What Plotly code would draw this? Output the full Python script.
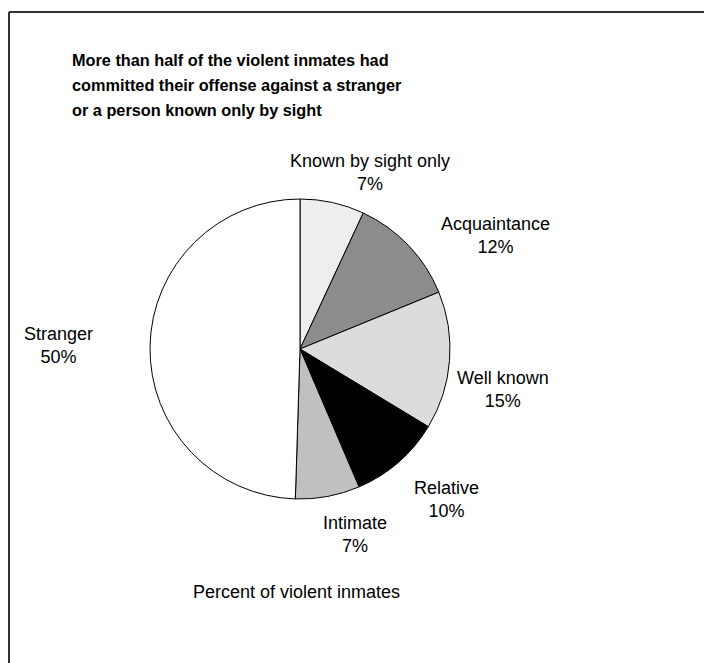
import plotly.graph_objects as go

W, H = 704, 663

categories = ["Known by sight only", "Acquaintance", "Well known", "Relative", "Intimate", "Stranger"]
values = [7, 12, 15, 10, 7, 50]
colors = ["#eeeeee", "#8c8c8c", "#dcdcdc", "#000000", "#c0c0c0", "#ffffff"]

# label anchor positions in pixels (center x, center y)
label_pos = [(370, 173), (495, 235), (503, 389), (447, 499), (355, 534), (58, 345)]

title_lines = ["More than half of the violent inmates had",
               "committed their offense against a stranger",
               "or a person known only by sight"]
title_y = [60, 85, 110]
footer_text = "Percent of violent inmates"

FONT = "Liberation Sans, Arial, sans-serif"

def px(x):
    return x / W

def py(y):
    return 1 - y / H

cx, cy, r = 300, 349, 150

fig = go.Figure(go.Pie(
    labels=categories,
    values=values,
    sort=False,
    direction="clockwise",
    rotation=0,
    marker=dict(colors=colors, line=dict(color="#000000", width=1)),
    textinfo="none",
    hoverinfo="label+value",
    showlegend=False,
    domain=dict(x=[px(cx - r), px(cx + r)], y=[py(cy + r), py(cy - r)]),
))

annotations = []
for cat, val, (lx, ly) in zip(categories, values, label_pos):
    annotations.append(dict(
        x=px(lx), y=py(ly), xref="paper", yref="paper",
        text=f"{cat}<br>{val}%", showarrow=False,
        xanchor="center", yanchor="middle", align="center",
        font=dict(family=FONT, size=18, color="#000000"),
    ))

for line, ty in zip(title_lines, title_y):
    annotations.append(dict(
        x=px(70), y=py(ty), xref="paper", yref="paper",
        text=f"<b>{line}</b>", showarrow=False,
        xanchor="left", yanchor="middle", align="left",
        font=dict(family=FONT, size=16.3, color="#000000"),
    ))

annotations.append(dict(
    x=px(296), y=py(592), xref="paper", yref="paper",
    text=footer_text, showarrow=False,
    xanchor="center", yanchor="middle", align="center",
    font=dict(family=FONT, size=18, color="#000000"),
))

border = dict(color="#333333", width=2)
fig.update_layout(
    width=W, height=H,
    margin=dict(l=0, r=0, t=0, b=0),
    paper_bgcolor="#ffffff",
    plot_bgcolor="#ffffff",
    annotations=annotations,
    shapes=[
        dict(type="line", xref="paper", yref="paper",
             x0=px(9), x1=1, y0=py(12), y1=py(12), line=border),
        dict(type="line", xref="paper", yref="paper",
             x0=px(9), x1=px(9), y0=py(12), y1=0, line=border),
    ],
)

fig.write_html(
    "out.html",
    config={"displayModeBar": False},
    post_script="document.body.style.margin='0';document.body.style.overflow='hidden';",
)
